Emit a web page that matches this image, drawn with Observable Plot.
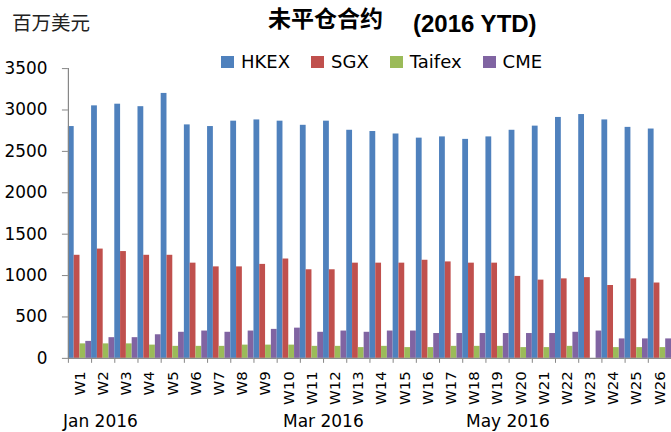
<!DOCTYPE html>
<html><head><meta charset="utf-8">
<script src="https://cdn.jsdelivr.net/npm/d3@7"></script>
<script src="https://cdn.jsdelivr.net/npm/@observablehq/plot@0.6"></script>
<style>
html,body{margin:0;padding:0;background:#fff;overflow:hidden;}
#wrap{position:relative;width:671px;height:432px;overflow:hidden;font-family:"DejaVu Sans",sans-serif;color:#000;}
#chart{position:absolute;left:0;top:0;}
.abs{position:absolute;white-space:nowrap;}
#ylab{left:12px;top:12px;font-family:"Noto Sans CJK SC",sans-serif;font-size:19.5px;line-height:1;color:#222;}
#t1{left:268px;top:6px;font-family:"Noto Sans CJK SC",sans-serif;font-weight:bold;font-size:23px;line-height:1;}
#t2{left:413px;top:12px;font-family:"Liberation Sans",sans-serif;font-weight:bold;font-size:24px;line-height:1;}
#legend{left:221px;top:53px;display:flex;align-items:center;font-size:18px;line-height:18px;}
#legend .item{display:flex;align-items:center;margin-right:21px;}
#legend .sw{width:13px;height:12px;margin-right:7px;}
.month{font-size:17px;line-height:1;top:413px;}
</style></head><body>
<div id="wrap">
  <div id="chart"></div>
  <div id="ylab" class="abs">百万美元</div>
  <div id="t1" class="abs">未平仓合约</div>
  <div id="t2" class="abs">(2016 YTD)</div>
  <div id="legend" class="abs"></div>
</div>
<script>
const weeks = ["W1","W2","W3","W4","W5","W6","W7","W8","W9","W10","W11","W12","W13","W14","W15","W16","W17","W18","W19","W20","W21","W22","W23","W24","W25","W26"];
const series = ["HKEX","SGX","Taifex","CME"];
const hkex   = [2800,3050,3070,3040,3200,2820,2800,2865,2880,2865,2815,2865,2755,2740,2710,2660,2675,2645,2675,2755,2805,2910,2945,2880,2790,2770];
const sgx    = [1245,1320,1290,1245,1245,1150,1105,1105,1135,1200,1070,1070,1150,1150,1150,1185,1165,1150,1150,990,945,960,975,880,960,910];
const taifex = [175,175,175,160,145,145,145,160,160,160,145,145,130,145,130,130,145,145,145,130,130,145,0,130,130,130];
const cme    = [205,250,250,285,315,330,315,330,350,365,315,330,315,330,330,300,300,300,300,300,300,315,330,235,235,235];
const yTicks = [0,500,1000,1500,2000,2500,3000,3500];
const months = ["Jan 2016","Mar 2016","May 2016"];

const colors = ["#4F81BD","#C0504D","#9BBB59","#8064A2"];
const AXIS = "#868686";
const monthLeft = [63, 283, 466];

const values = [hkex, sgx, taifex, cme];
const data = weeks.flatMap((w, i) => series.map((s, j) => ({week: w, series: s, value: values[j][i]})));

const W = 675, ML = 68.3;
const bw = (W - ML) / weeks.length;

const plot = Plot.plot({
  width: W, height: 432,
  marginLeft: ML, marginRight: 0, marginTop: 68.5, marginBottom: 72,
  style: {fontFamily: "'DejaVu Sans', sans-serif", fontSize: "15px", color: "#000", background: "transparent", overflow: "visible"},
  fx: {domain: weeks, padding: 0, round: false, axis: null, label: null},
  x: {domain: series, padding: 0, round: false, axis: null, label: null},
  y: {domain: [0, 3500], axis: null, label: null},
  color: {domain: series, range: colors},
  marks: [
    Plot.barY(data, {fx: "week", x: "series", y: "value", fill: "series", insetLeft: 0, insetRight: 0}),
    Plot.ruleY([0], {stroke: AXIS, strokeWidth: 1.2}),
    Plot.frame({anchor: "left", facetAnchor: "left", stroke: AXIS, strokeWidth: 1.2}),
    Plot.axisY({ticks: yTicks, tickSize: 6, tickPadding: 15, stroke: AXIS, fill: "#000", fontSize: 17, tickFormat: d => String(d), label: null}),
    Plot.axisFx({anchor: "bottom", tickSize: 0, tickPadding: 13, tickRotate: -90, fontSize: 15, fill: "#000", label: null}),
    Plot.axisFx({anchor: "bottom", tickSize: 5, dx: -bw / 2, stroke: AXIS, fill: "none", label: null})
  ]
});
document.getElementById("chart").appendChild(plot);

const legend = document.getElementById("legend");
series.forEach((s, i) => {
  const it = document.createElement("div");
  it.className = "item";
  it.innerHTML = `<span class="sw" style="background:${colors[i]}"></span><span>${s}</span>`;
  legend.appendChild(it);
});
const wrap = document.getElementById("wrap");
months.forEach((m, i) => {
  const d = document.createElement("div");
  d.className = "abs month";
  d.style.left = monthLeft[i] + "px";
  d.textContent = m;
  wrap.appendChild(d);
});
</script>
</body></html>
